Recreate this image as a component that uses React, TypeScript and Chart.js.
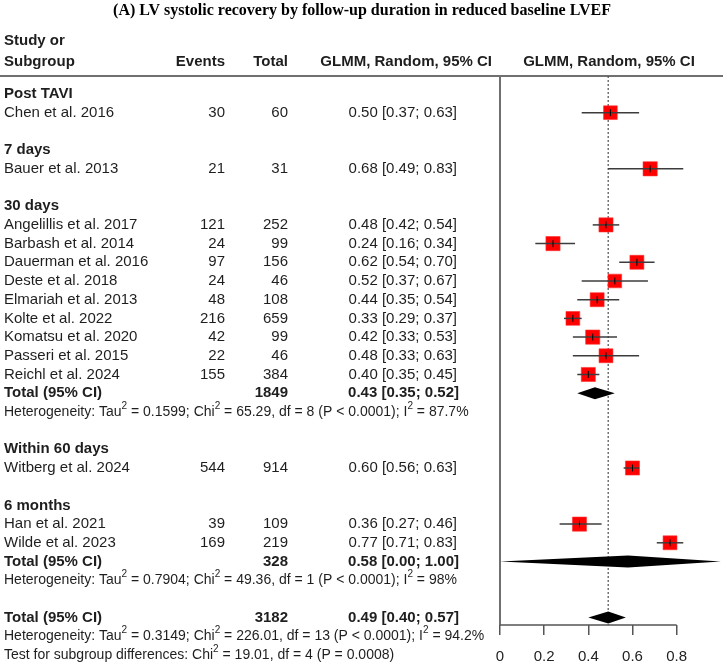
import { useEffect, useRef } from 'react';
import { Chart, registerables } from 'chart.js';

Chart.register(...registerables);

const W = 723;
const H = 666;
const SANS = '"Liberation Sans", Arial, sans-serif';
const SERIF = '"Liberation Serif", "Times New Roman", serif';

const TITLE = '(A) LV systolic recovery by follow-up duration in reduced baseline LVEF';

// Individual studies
const studyNames = [
  'Chen et al. 2016',
  'Bauer et al. 2013',
  'Angelillis et al. 2017',
  'Barbash et al. 2014',
  'Dauerman et al. 2016',
  'Deste et al. 2018',
  'Elmariah et al. 2013',
  'Kolte et al. 2022',
  'Komatsu et al. 2020',
  'Passeri et al. 2015',
  'Reichl et al. 2024',
  'Witberg et al. 2024',
  'Han et al. 2021',
  'Wilde et al. 2023',
];
const studyEvents = [30, 21, 121, 24, 97, 24, 48, 216, 42, 22, 155, 544, 39, 169];
const studyTotals = [60, 31, 252, 99, 156, 46, 108, 659, 99, 46, 384, 914, 109, 219];
const studyEst = [0.5, 0.68, 0.48, 0.24, 0.62, 0.52, 0.44, 0.33, 0.42, 0.48, 0.4, 0.6, 0.36, 0.77];
const studyLow = [0.37, 0.49, 0.42, 0.16, 0.54, 0.37, 0.35, 0.29, 0.33, 0.33, 0.35, 0.56, 0.27, 0.71];
const studyHigh = [0.63, 0.83, 0.54, 0.34, 0.7, 0.67, 0.54, 0.37, 0.53, 0.63, 0.45, 0.63, 0.46, 0.83];
const studyWeights = [6.9, 7.4, 7.3, 7.4, 7.2, 6.9, 7.2, 7.0, 7.4, 7.1, 7.3, 7.3, 7.3, 7.1];
const studyRows = [1, 4, 7, 8, 9, 10, 11, 12, 13, 14, 15, 20, 23, 24];

// Subgroup headings
const groupLabels = ['Post TAVI', '7 days', '30 days', 'Within 60 days', '6 months'];
const groupRows = [0, 3, 6, 19, 22];

// Pooled estimates (30 days, 6 months, overall)
const pooledTotals = [1849, 328, 3182];
const pooledEst = [0.43, 0.58, 0.49];
const pooledLow = [0.35, 0.0, 0.4];
const pooledHigh = [0.52, 1.0, 0.57];
const pooledRows = [16, 25, 28];

// Heterogeneity statistics
const hetTau2 = ['0.1599', '0.7904', '0.3149'];
const hetChi2 = ['65.29', '49.36', '226.01'];
const hetDf = ['8', '1', '13'];
const hetP = ['P < 0.0001', 'P < 0.0001', 'P < 0.0001'];
const hetI2 = ['87.7%', '98%', '94.2%'];
const hetRows = [17, 26, 29];

// Test for subgroup differences
const testChi2 = '19.01';
const testDf = '4';
const testP = 'P = 0.0008';
const testRow = 30;

const xTicks = [0, 0.2, 0.4, 0.6, 0.8];
const xTickLabels = ['0', '0.2', '0.4', '0.6', '0.8'];

const fmt = (v: number) => v.toFixed(2);
const ciText = (e: number, l: number, h: number) => `${fmt(e)} [${fmt(l)}; ${fmt(h)}]`;

type Seg = [string, boolean];

function drawRich(ctx: CanvasRenderingContext2D, x: number, y: number, segs: Seg[], size: number) {
  let cx = x;
  ctx.textAlign = 'left';
  for (const [t, sup] of segs) {
    if (sup) {
      ctx.font = `${Math.round(size * 0.68)}px ${SANS}`;
      ctx.fillText(t, cx, y - size * 0.42);
    } else {
      ctx.font = `${size}px ${SANS}`;
      ctx.fillText(t, cx, y);
    }
    cx += ctx.measureText(t).width;
  }
}

const COL_EVENTS = 225;
const COL_TOTAL = 288;
const COL_CI = 457;
const TEXT = '#1e1e1e';
const FS = 15;

const forestPlugin = {
  id: 'forestTable',
  beforeDatasetsDraw(chart: any) {
    const { ctx, chartArea, scales } = chart;
    const x = scales.x;
    ctx.save();
    // header rule
    ctx.strokeStyle = '#707070';
    ctx.lineWidth = 2;
    ctx.beginPath();
    ctx.moveTo(0, chartArea.top);
    ctx.lineTo(W, chartArea.top);
    ctx.stroke();
    // line of no effect at 0
    const x0 = x.getPixelForValue(0);
    ctx.beginPath();
    ctx.moveTo(x0, chartArea.top);
    ctx.lineTo(x0, chartArea.bottom);
    ctx.stroke();
    // overall estimate reference (dotted)
    const xr = x.getPixelForValue(pooledEst[2]);
    ctx.strokeStyle = '#505050';
    ctx.lineWidth = 1.2;
    ctx.setLineDash([2, 2]);
    ctx.beginPath();
    ctx.moveTo(xr, chartArea.top);
    ctx.lineTo(xr, chartArea.bottom);
    ctx.stroke();
    ctx.restore();
  },
  afterDatasetsDraw(chart: any) {
    const { ctx, chartArea, scales } = chart;
    const x = scales.x;
    const y = scales.y;
    ctx.save();

    // confidence intervals and estimate marks
    studyEst.forEach((e, i) => {
      const py = y.getPixelForValue(studyRows[i]);
      ctx.strokeStyle = '#3c3c3c';
      ctx.lineWidth = 1.5;
      ctx.beginPath();
      ctx.moveTo(x.getPixelForValue(studyLow[i]), py);
      ctx.lineTo(x.getPixelForValue(studyHigh[i]), py);
      ctx.stroke();
      ctx.strokeStyle = '#000';
      ctx.lineWidth = 1;
      const pe = x.getPixelForValue(e);
      ctx.beginPath();
      ctx.moveTo(pe, py - 3.5);
      ctx.lineTo(pe, py + 3.5);
      ctx.stroke();
    });

    // pooled diamonds
    pooledEst.forEach((e, i) => {
      const py = y.getPixelForValue(pooledRows[i]);
      const hh = 6;
      ctx.fillStyle = '#000';
      ctx.beginPath();
      ctx.moveTo(x.getPixelForValue(pooledLow[i]), py);
      ctx.lineTo(x.getPixelForValue(e), py - hh);
      ctx.lineTo(x.getPixelForValue(pooledHigh[i]), py);
      ctx.lineTo(x.getPixelForValue(e), py + hh);
      ctx.closePath();
      ctx.fill();
    });

    // x axis line (0 to last tick)
    ctx.strokeStyle = '#555';
    ctx.lineWidth = 1.5;
    ctx.beginPath();
    ctx.moveTo(x.getPixelForValue(xTicks[0]), chartArea.bottom);
    ctx.lineTo(x.getPixelForValue(xTicks[xTicks.length - 1]), chartArea.bottom);
    ctx.stroke();

    // title
    ctx.fillStyle = '#000';
    ctx.textBaseline = 'middle';
    ctx.textAlign = 'center';
    ctx.font = `bold 16px ${SERIF}`;
    ctx.fillText(TITLE, 362, 11);

    // column headers
    ctx.fillStyle = TEXT;
    ctx.font = `bold ${FS}px ${SANS}`;
    ctx.textAlign = 'left';
    ctx.fillText('Study or', 4, 41);
    ctx.fillText('Subgroup', 4, 62);
    ctx.textAlign = 'right';
    ctx.fillText('Events', COL_EVENTS, 62);
    ctx.fillText('Total', COL_TOTAL, 62);
    ctx.fillText('GLMM, Random, 95% CI', 492, 62);
    ctx.textAlign = 'center';
    ctx.fillText('GLMM, Random, 95% CI', 609, 62);

    // subgroup headings
    ctx.textAlign = 'left';
    groupLabels.forEach((g, i) => {
      ctx.fillText(g, 4, y.getPixelForValue(groupRows[i]));
    });

    // study rows
    ctx.font = `${FS}px ${SANS}`;
    studyNames.forEach((n, i) => {
      const py = y.getPixelForValue(studyRows[i]);
      ctx.textAlign = 'left';
      ctx.fillText(n, 4, py);
      ctx.textAlign = 'right';
      ctx.fillText(String(studyEvents[i]), COL_EVENTS, py);
      ctx.fillText(String(studyTotals[i]), COL_TOTAL, py);
      ctx.fillText(ciText(studyEst[i], studyLow[i], studyHigh[i]), COL_CI, py);
    });

    // pooled rows
    ctx.font = `bold ${FS}px ${SANS}`;
    pooledEst.forEach((e, i) => {
      const py = y.getPixelForValue(pooledRows[i]);
      ctx.textAlign = 'left';
      ctx.fillText('Total (95% CI)', 4, py);
      ctx.textAlign = 'right';
      ctx.fillText(String(pooledTotals[i]), COL_TOTAL, py);
      ctx.fillText(ciText(e, pooledLow[i], pooledHigh[i]), COL_CI + 2, py);
    });

    // heterogeneity rows
    hetRows.forEach((r, i) => {
      const py = y.getPixelForValue(r);
      drawRich(ctx, 4, py, [
        ['Heterogeneity: Tau', false],
        ['2', true],
        [` = ${hetTau2[i]}; Chi`, false],
        ['2', true],
        [` = ${hetChi2[i]}, df = ${hetDf[i]} (${hetP[i]}); I`, false],
        ['2', true],
        [` = ${hetI2[i]}`, false],
      ], FS - 1);
    });

    drawRich(ctx, 4, y.getPixelForValue(testRow), [
      ['Test for subgroup differences: Chi', false],
      ['2', true],
      [` = ${testChi2}, df = ${testDf} (${testP})`, false],
    ], FS - 1);

    ctx.restore();
  },
};

export default function App() {
  const ref = useRef<HTMLCanvasElement>(null);

  useEffect(() => {
    const canvas = ref.current;
    if (!canvas) return;
    const side = (w: number) => (14 * Math.sqrt(w / 7.2)) / (2 * Math.SQRT1_2);
    const chart = new Chart(canvas, {
      type: 'scatter',
      data: {
        datasets: [
          {
            label: 'Studies',
            data: studyEst.map((e, i) => ({ x: e, y: studyRows[i] })),
            pointStyle: 'rect',
            pointRadius: studyWeights.map(side),
            pointHoverRadius: studyWeights.map(side),
            backgroundColor: '#ff0000',
            borderColor: '#ff3030',
            borderWidth: 0.6,
          },
        ],
      },
      options: {
        animation: false,
        responsive: false,
        maintainAspectRatio: false,
        devicePixelRatio: 1,
        events: [],
        layout: { autoPadding: false, padding: { left: 500, right: 2.2, top: 76, bottom: 0 } },
        plugins: {
          legend: { display: false },
          tooltip: { enabled: false },
          title: { display: false },
        },
        scales: {
          x: {
            type: 'linear',
            min: 0,
            max: 1,
            afterBuildTicks: (s: any) => {
              s.ticks = xTicks.map((v) => ({ value: v }));
            },
            afterFit: (s: any) => {
              s.height = 41;
              s.paddingLeft = 0;
              s.paddingRight = 0;
            },
            ticks: {
              autoSkip: false,
              maxRotation: 0,
              padding: 13,
              color: '#222',
              font: { family: SANS, size: 15 },
              callback: (_v: any, i: number) => xTickLabels[i],
            },
            grid: {
              drawOnChartArea: false,
              drawTicks: true,
              tickLength: 10,
              color: '#555',
              lineWidth: 1.5,
            },
            border: { display: false },
          },
          y: {
            type: 'linear',
            display: false,
            reverse: true,
            min: -0.9626,
            max: 28.396,
          },
        },
      },
      plugins: [forestPlugin],
    } as any);
    return () => chart.destroy();
  }, []);

  return (
    <div style={{ position: 'absolute', left: 0, top: 0, width: W, height: H, background: '#fff' }}>
      <canvas ref={ref} width={W} height={H} style={{ width: W, height: H, display: 'block' }} />
    </div>
  );
}
